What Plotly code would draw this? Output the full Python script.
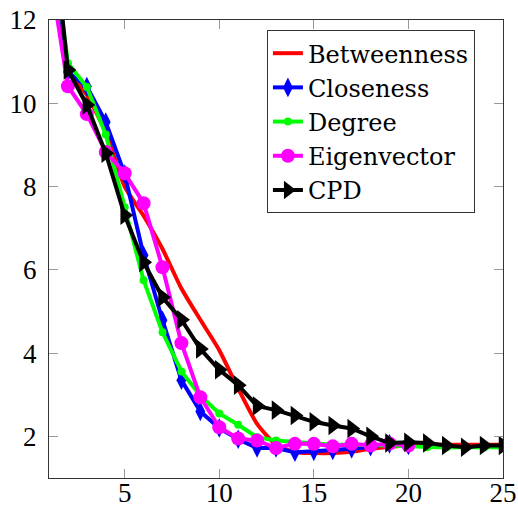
import plotly.graph_objects as go

x_all = list(range(1, 26))
x_20 = list(range(1, 21))

betweenness = [14.5, 10.8, 10.2, 9.3, 8.0, 7.3, 6.5, 5.55, 4.8, 4.07, 3.15, 2.3, 1.8, 1.62, 1.6, 1.6, 1.63, 1.7, 1.75, 1.78, 1.8, 1.8, 1.8, 1.8, 1.8]
closeness = [14.5, 10.75, 10.4, 9.55, 8.3, 6.35, 4.79, 3.35, 2.6, 2.2, 1.93, 1.72, 1.72, 1.62, 1.64, 1.66, 1.7, 1.75, 1.82, 1.78]
degree = [14.5, 10.96, 10.39, 9.25, 7.5, 5.75, 4.5, 3.56, 2.98, 2.55, 2.28, 1.98, 1.9, 1.86, 1.83, 1.8, 1.8, 1.8, 1.78, 1.76, 1.74, 1.73, 1.74, 1.73, 1.74]
eigenvector = [13.3, 10.41, 9.74, 8.83, 8.32, 7.6, 6.06, 4.24, 2.94, 2.22, 1.95, 1.9, 1.72, 1.82, 1.82, 1.76, 1.82, 1.78, 1.83, 1.78]
cpd = [15.1, 10.8, 9.96, 8.8, 7.31, 6.18, 5.34, 4.8, 4.1, 3.6, 3.23, 2.73, 2.63, 2.5, 2.35, 2.26, 2.19, 2.0, 1.84, 1.86, 1.84, 1.78, 1.74, 1.78, 1.78]

TICK_FONT = "Liberation Serif"
LEGEND_FONT = "DejaVu Serif"

fig = go.Figure()
fig.add_trace(go.Scatter(x=x_all, y=betweenness, name="Betweenness", mode="lines",
                         line=dict(color="#ff0000", width=4, shape="spline", smoothing=0.6),
                         legendgroup="a"))
fig.add_trace(go.Scatter(x=x_20, y=closeness, name="Closeness", mode="lines+markers",
                         line=dict(color="#0000ff", width=4),
                         marker=dict(symbol="diamond-tall", size=14, color="#0000ff"),
                         legendgroup="b"))
fig.add_trace(go.Scatter(x=x_all, y=degree, name="Degree", mode="lines+markers",
                         line=dict(color="#00ff00", width=4),
                         marker=dict(symbol="circle", size=8, color="#00ff00"),
                         legendgroup="c"))
fig.add_trace(go.Scatter(x=x_20, y=eigenvector, name="Eigenvector", mode="lines+markers",
                         line=dict(color="#ff00ff", width=4),
                         marker=dict(symbol="circle", size=14, color="#ff00ff"),
                         legendgroup="d"))
fig.add_trace(go.Scatter(x=x_all, y=cpd, name="CPD", mode="lines+markers",
                         line=dict(color="#000000", width=4),
                         marker=dict(symbol="triangle-right", size=17, color="#000000"),
                         legendgroup="e"))

axis_common = dict(
    showgrid=False, zeroline=False,
    showline=True, linecolor="#333333", linewidth=1.3, mirror="ticks",
    ticks="inside", ticklen=9, tickwidth=1, tickcolor="#999999",
    tickfont=dict(family=TICK_FONT, size=27, color="#000000"),
    automargin=False,
)

fig.update_layout(
    width=518, height=510,
    margin=dict(l=49, r=15, t=20, b=32),
    font=dict(family=TICK_FONT, size=27, color="#000000"),
    paper_bgcolor="white", plot_bgcolor="white",
    xaxis=dict(range=[1, 25], tickvals=[5, 10, 15, 20, 25], ticklabelstandoff=-10, **axis_common),
    yaxis=dict(range=[1, 12], tickvals=[2, 4, 6, 8, 10, 12], ticklabelstandoff=6, **axis_common),
    legend=dict(
        x=0.48, y=0.978, xanchor="left", yanchor="top",
        bgcolor="white", bordercolor="#333333", borderwidth=1,
        font=dict(family=LEGEND_FONT, size=24, color="#000000"),
        tracegroupgap=0, itemsizing="trace",
    ),
    showlegend=True,
)

fig.write_html("out.html")
